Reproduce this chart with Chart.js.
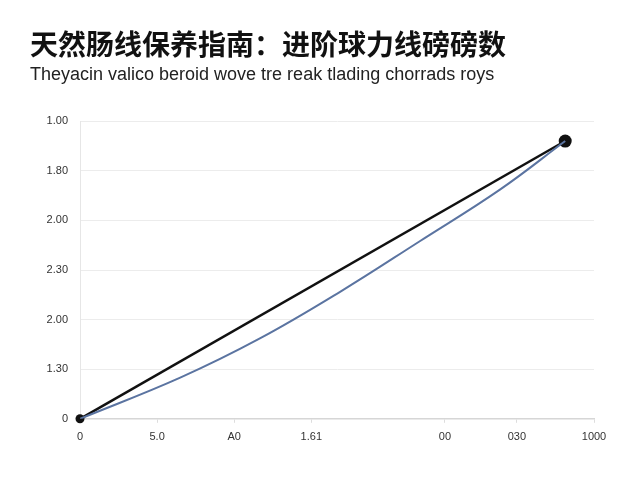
<!DOCTYPE html>
<html lang="zh">
<head>
    <meta charset="UTF-8">
    <title>天然肠线保养指南</title>
    <script src="https://cdn.jsdelivr.net/npm/chart.js"></script>
    <style>
        body { margin: 0; background: #fff; }
        #grafico { display: block; }
    </style>
</head>
<body>
    <canvas id="grafico" width="640" height="480"></canvas>

<script>
    // dados
    const linhaPretaX = [0, 944];
    const linhaPretaY = [0, 5.6];
    const curvaAzulX = [0, 195, 350, 506, 661, 817, 944];
    const curvaAzulY = [0, 0.83, 1.62, 2.56, 3.58, 4.62, 5.6];

    const xTicksValores = [0, 150, 300, 450, 710, 850, 1000];
    const xTicksTextos = ['0', '5.0', 'A0', '1.61', '00', '030', '1000'];
    const yTicksTextos = ['0', '1.30', '2.00', '2.30', '2.00', '1.80', '1.00'];

    const titulo = '天然肠线保养指南：进阶球力线磅磅数';
    const subtitulo = 'Theyacin valico beroid wove tre reak tlading chorrads roys';

    function pares(xs, ys) {
        var pts = [];
        for (var i = 0; i < xs.length; i++) {
            pts.push({ x: xs[i], y: ys[i] });
        }
        return pts;
    }

    const config = {
        type: 'line',
        data: {
            datasets: [{
                label: 'azul',
                data: pares(curvaAzulX, curvaAzulY),
                borderColor: '#5b74a1',
                borderWidth: 2,
                pointRadius: 0,
                tension: 0.4,
                fill: false
            }, {
                label: 'preta',
                data: pares(linhaPretaX, linhaPretaY),
                borderColor: '#111111',
                backgroundColor: '#111111',
                borderWidth: 2.5,
                pointRadius: [4.5, 6.5],
                pointBorderWidth: 0,
                clip: false,
                fill: false
            }]
        },
        options: {
            responsive: false,
            animation: false,
            layout: {
                padding: { top: 28, left: 30, right: 46, bottom: 28 }
            },
            plugins: {
                legend: { display: false },
                tooltip: { enabled: false },
                title: {
                    display: true,
                    text: titulo,
                    align: 'start',
                    color: '#111',
                    font: { size: 28, weight: 'bold', family: 'Noto Sans CJK SC' },
                    padding: { top: 0, bottom: 3 }
                },
                subtitle: {
                    display: true,
                    text: subtitulo,
                    align: 'start',
                    color: '#222',
                    font: { size: 18, family: 'Liberation Sans' },
                    padding: { top: 0, bottom: 35 }
                }
            },
            scales: {
                x: {
                    type: 'linear',
                    min: 0,
                    max: 1000,
                    afterBuildTicks: function (scale) {
                        scale.ticks = xTicksValores.map(function (v) { return { value: v }; });
                    },
                    grid: {
                        drawOnChartArea: false,
                        tickLength: 4,
                        color: '#dddddd'
                    },
                    border: { color: '#d6d6d6', width: 1.5 },
                    ticks: {
                        autoSkip: false,
                        maxRotation: 0,
                        padding: 8,
                        color: '#333',
                        font: { size: 11, family: 'Liberation Sans' },
                        callback: function (v, i) { return xTicksTextos[i]; }
                    }
                },
                y: {
                    min: 0,
                    max: 6,
                    afterFit: function (scale) { scale.width = 50; },
                    grid: {
                        color: '#ececec',
                        tickLength: 0
                    },
                    border: { color: '#e6e6e6' },
                    ticks: {
                        stepSize: 1,
                        padding: 12,
                        color: '#333',
                        font: { size: 11, family: 'Liberation Sans' },
                        callback: function (v, i) { return yTicksTextos[i]; }
                    }
                }
            }
        }
    };

    new Chart(document.getElementById('grafico'), config);
</script>
</body>
</html>
